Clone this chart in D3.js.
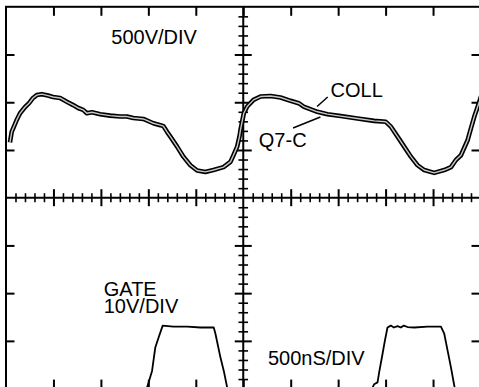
<!DOCTYPE html>
<html>
<head>
<meta charset="utf-8">
<script src="https://cdn.jsdelivr.net/npm/d3@7"></script>
<style>
  html, body { margin: 0; padding: 0; background: #fff; overflow: hidden; }
  svg { display: block; }
  text { font-family: "Liberation Sans", Arial, Helvetica, sans-serif; fill: #000; }
</style>
</head>
<body>
<svg id="chart" width="479" height="387"></svg>
<script>
// ---- data (time in ns, amplitude in graticule divisions, 0 = centre line) ----
const collTime = [42,60,77,113,148,201,243,285,324,377,443,496,570,641,708,760,813,852,905,993,1098,1204,1275,1341,1447,1552,1626,1658,1697,1732,1803,1869,1943,2014,2101,2186,2292,2365,2397,2436,2460,2471,2506,2542,2608,2682,2788,2893,2999,3084,3136,3281,3387,3527,3703,3879,4002,4055,4126,4196,4266,4337,4407,4512,4618,4689,4741,4794,4865,4900,4935,4971,5010];
const collDiv  = [1.16,1.38,1.46,1.63,1.77,1.90,1.98,2.09,2.15,2.17,2.14,2.11,2.09,2.01,1.94,1.88,1.84,1.77,1.79,1.75,1.72,1.70,1.70,1.67,1.65,1.56,1.52,1.50,1.38,1.28,1.07,0.86,0.68,0.57,0.54,0.58,0.64,0.75,0.89,1.07,1.28,1.42,1.77,1.91,2.05,2.12,2.13,2.10,2.03,1.98,1.91,1.80,1.75,1.71,1.66,1.61,1.59,1.49,1.28,1.07,0.86,0.68,0.58,0.52,0.58,0.64,0.79,0.89,1.21,1.46,1.70,1.91,2.15];

const gateTime = [0,1460,1486,1539,1573,1608,1651,1764,1908,2049,2189,2207,2260,2295,2331,2360,3840,3862,3879,3915,3932,3967,3992,4020,4055,4087,4126,4161,4192,4231,4301,4443,4583,4618,4654,4689,4724,4760,5000];
const gateDiv  = [-4.3,-4.3,-3.98,-3.63,-3.14,-2.93,-2.68,-2.70,-2.70,-2.72,-2.72,-2.85,-3.35,-3.63,-3.98,-4.3,-4.3,-3.98,-3.91,-3.87,-3.66,-3.28,-3.00,-2.72,-2.68,-2.72,-2.69,-2.72,-2.68,-2.71,-2.72,-2.70,-2.70,-2.85,-3.21,-3.56,-3.94,-4.3,-4.3];

const xDivisions = d3.range(0, 5001, 500);      // 500 ns / div
const yDivisions = d3.range(-4, 4.01, 1);
const xMinor = d3.range(0, 5001, 100);
const yMinor = d3.range(-4, 4.01, 0.2).map(v => +v.toFixed(2));

const labels = [
  {text: "500V/DIV", t: 1110, d: 3.22},
  {text: "COLL",     t: 3420, d: 2.11},
  {text: "Q7-C",     t: 2664, d: 1.07},
  {text: "GATE",     t: 1030, d: -2.06},
  {text: "10V/DIV",  t: 1030, d: -2.42},
  {text: "500nS/DIV",t: 2760, d: -3.51}
];
const leaders = [
  {t1: 3278, d1: 1.91, t2: 3390, d2: 2.11},
  {t1: 3025, d1: 1.46, t2: 3313, d2: 1.69}
];

// ---- scales ----
const svg = d3.select("#chart");
const x = d3.scaleLinear().domain([0, 5000]).range([6, 480.5]);
const y = d3.scaleLinear().domain([-4, 4]).range([388.6, 6.8]);

const g = svg.append("g");

// frame
g.append("rect")
  .attr("x", x(0)).attr("y", y(4))
  .attr("width", x(5000) - x(0)).attr("height", y(-4) - y(4))
  .attr("fill", "none").attr("stroke", "#000").attr("stroke-width", 2);

// centre lines
g.append("line").attr("x1", x(0)).attr("x2", x(5000)).attr("y1", y(0)).attr("y2", y(0))
  .attr("stroke", "#000").attr("stroke-width", 2);
g.append("line").attr("x1", x(2500)).attr("x2", x(2500)).attr("y1", y(4)).attr("y2", y(-4))
  .attr("stroke", "#000").attr("stroke-width", 2);

// edge major ticks via axes
function cleanAxis(sel, w) {
  sel.select(".domain").remove();
  sel.selectAll("text").remove();
  sel.selectAll(".tick line").attr("stroke", "#000").attr("stroke-width", w);
}
const innerX = xDivisions.filter(v => v > 0 && v < 5000);
const innerY = yDivisions.filter(v => v > -4 && v < 4 && v !== 0);

g.append("g").attr("transform", `translate(0,${y(4)})`)
  .call(d3.axisBottom(x).tickValues(innerX).tickSize(9)).call(cleanAxis, 2);
g.append("g").attr("transform", `translate(0,${y(-4)})`)
  .call(d3.axisTop(x).tickValues(innerX).tickSize(9)).call(cleanAxis, 2);
g.append("g").attr("transform", `translate(${x(0)},0)`)
  .call(d3.axisRight(y).tickValues(innerY).tickSize(8.5)).call(cleanAxis, 2);
g.append("g").attr("transform", `translate(${x(5000)},0)`)
  .call(d3.axisLeft(y).tickValues(innerY).tickSize(9)).call(cleanAxis, 2);

// centre-line ticks (minor + major), both sides
const minorX = xMinor.filter(v => v % 500 !== 0);
const majorX = innerX.filter(v => v !== 2500);
const minorY = yMinor.filter(v => Math.abs(v - Math.round(v)) > 1e-6);
const majorY = innerY;

[d3.axisTop, d3.axisBottom].forEach(ax => {
  g.append("g").attr("transform", `translate(0,${y(0)})`)
    .call(ax(x).tickValues(minorX).tickSize(4.5)).call(cleanAxis, 1.6);
  g.append("g").attr("transform", `translate(0,${y(0)})`)
    .call(ax(x).tickValues(majorX).tickSize(8.5)).call(cleanAxis, 2);
});
[d3.axisLeft, d3.axisRight].forEach(ax => {
  g.append("g").attr("transform", `translate(${x(2500)},0)`)
    .call(ax(y).tickValues(minorY).tickSize(4.8)).call(cleanAxis, 1.6);
  g.append("g").attr("transform", `translate(${x(2500)},0)`)
    .call(ax(y).tickValues(majorY).tickSize(8.5)).call(cleanAxis, 2);
});

// ---- traces ----
const collData = collTime.map((t, i) => [t, collDiv[i]]);
const gateData = gateTime.map((t, i) => [t, gateDiv[i]]);
const line = d3.line().x(d => x(d[0])).y(d => y(d[1]));

g.append("path").datum(collData).attr("d", line)
  .attr("fill", "none").attr("stroke", "#000").attr("stroke-width", 4.6)
  .attr("stroke-linejoin", "round");
g.append("path").datum(collData).attr("d", line)
  .attr("fill", "none").attr("stroke", "#c8c8c8").attr("stroke-width", 1.4)
  .attr("stroke-linejoin", "round");

g.append("path").datum(gateData).attr("d", line)
  .attr("fill", "none").attr("stroke", "#000").attr("stroke-width", 1.8)
  .attr("stroke-linejoin", "round");

// ---- leaders & labels ----
g.selectAll(".leader").data(leaders).join("line")
  .attr("x1", d => x(d.t1)).attr("y1", d => y(d.d1))
  .attr("x2", d => x(d.t2)).attr("y2", d => y(d.d2))
  .attr("stroke", "#000").attr("stroke-width", 1.5);

g.selectAll(".lbl").data(labels).join("text")
  .attr("x", d => x(d.t)).attr("y", d => y(d.d))
  .attr("font-size", 20)
  .text(d => d.text);
</script>
</body>
</html>
